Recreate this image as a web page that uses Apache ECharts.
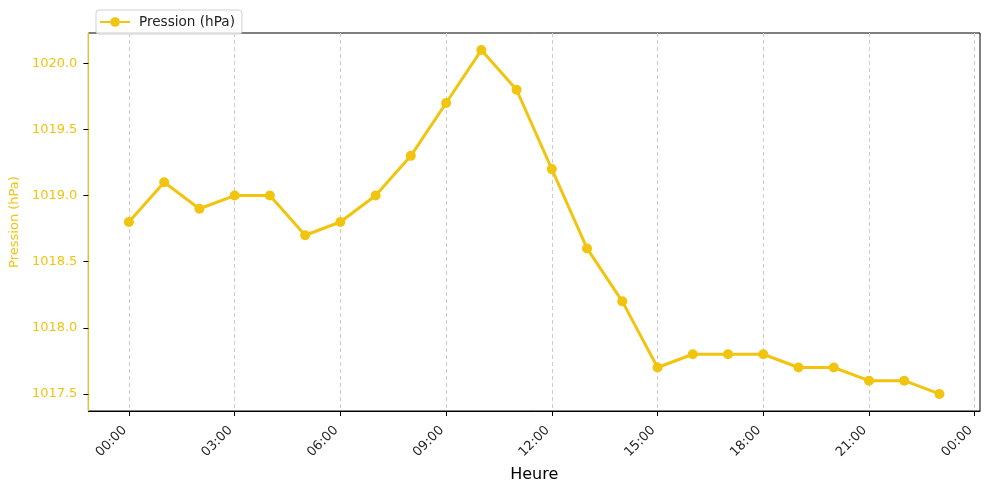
<!DOCTYPE html>
<html>
<head>
<meta charset="utf-8">
<script src="https://cdn.jsdelivr.net/npm/echarts@6/dist/echarts.min.js"></script>
<style>html,body{margin:0;padding:0;background:#fff}#c{width:989px;height:493px}</style>
</head>
<body>
<div id="c"></div>
<script>
const hours = [0,1,2,3,4,5,6,7,8,9,10,11,12,13,14,15,16,17,18,19,20,21,22,23];
const pressure = [1018.8,1019.1,1018.9,1019.0,1019.0,1018.7,1018.8,1019.0,1019.3,1019.7,1020.1,1019.8,1019.2,1018.6,1018.2,1017.7,1017.8,1017.8,1017.8,1017.7,1017.7,1017.6,1017.6,1017.5];
const xTicks = [0,3,6,9,12,15,18,21,24];
const yTicks = [1017.5,1018.0,1018.5,1019.0,1019.5,1020.0];
const seriesName = 'Pression (hPa)';
const gold = '#f1c40f';
const font = 'DejaVu Sans';

const chart = echarts.init(document.getElementById('c'), null, {renderer:'canvas'});
chart.setOption({
  animation:false,
  backgroundColor:'#fff',
  grid:{left:88, right:9, top:33, bottom:82, show:true, borderColor:'#000', borderWidth:1},
  legend:{
    left:96, top:10, padding:[5,7,5,3],
    borderColor:'#d0d0d0', borderWidth:1, borderRadius:3, backgroundColor:'rgba(255,255,255,0.8)',
    itemWidth:30, itemHeight:12, itemGap:8,
    textStyle:{fontFamily:font, fontSize:13.6, color:'#222', padding:[0,0,0,4]},
    data:[seriesName]
  },
  xAxis:{
    type:'value', min:-1.15, max:24.15,
    name:'Heure', nameLocation:'middle', nameGap:55,
    nameTextStyle:{fontFamily:font, fontSize:16, color:'#000'},
    axisLine:{show:true, onZero:false, lineStyle:{color:'#000', width:1}},
    axisTick:{show:true, length:5, lineStyle:{color:'#000'}, customValues:xTicks},
    axisLabel:{rotate:45, margin:13, padding:[0,6,0,0], fontFamily:font, fontSize:13, color:'#222', customValues:xTicks,
      formatter:v=>String(Math.round(v)%24).padStart(2,'0')+':00'},
    splitLine:{show:true, lineStyle:{color:'#cccccc', type:[4,3], width:1}}
  },
  yAxis:{
    type:'value', min:1017.371, max:1020.229,
    name:'Pression (hPa)', nameLocation:'middle', nameGap:64, nameRotate:90,
    nameTextStyle:{fontFamily:font, fontSize:13, color:gold},
    axisLine:{show:true, onZero:false, lineStyle:{color:gold, width:1}},
    axisTick:{show:true, length:5, lineStyle:{color:'#000'}, customValues:yTicks},
    axisLabel:{margin:11, fontFamily:font, fontSize:13, color:gold, customValues:yTicks,
      formatter:v=>v.toFixed(1)},
    splitLine:{show:false}
  },
  series:[{
    name:seriesName, type:'line',
    data:hours.map((h,i)=>[h,pressure[i]]),
    symbol:'circle', symbolSize:10,
    itemStyle:{color:gold},
    lineStyle:{color:gold, width:3}
  }]
});
</script>
</body>
</html>
